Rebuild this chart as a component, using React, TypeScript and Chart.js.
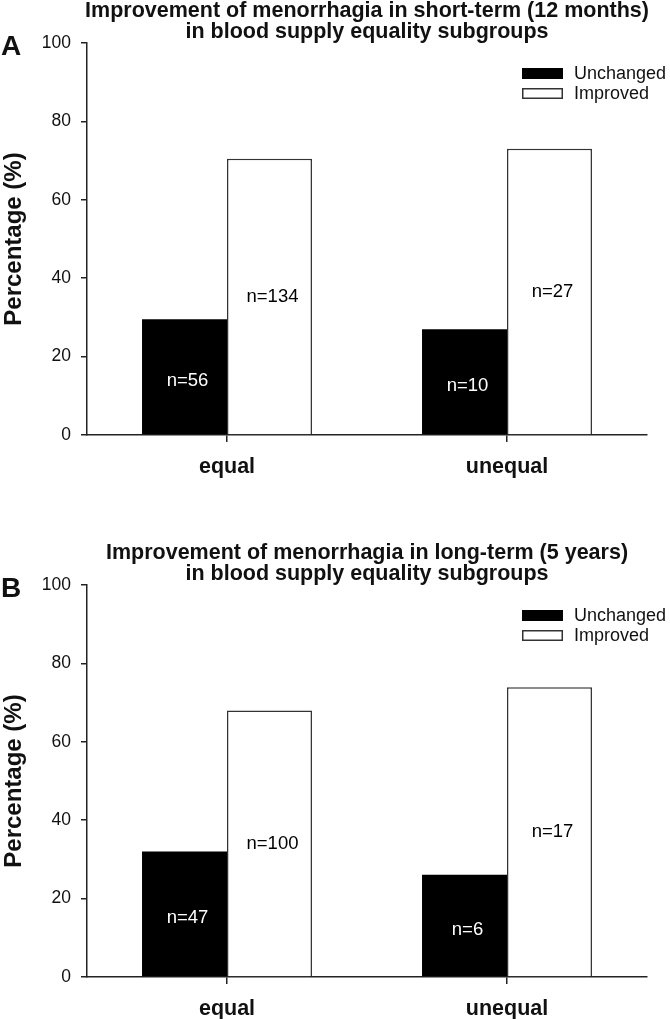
import React, { useEffect, useRef } from 'react';
import { Chart, registerables } from 'chart.js';

Chart.register(...registerables);

const FONT = '"Liberation Sans", Arial, Helvetica, sans-serif';

// ---- data ----
const categories = ['equal', 'unequal'];
const seriesNames = ['Unchanged', 'Improved'];
const yTickValues = [0, 20, 40, 60, 80, 100];
const yAxisTitle = 'Percentage (%)';

const titleA = ['Improvement of menorrhagia in short-term (12 months)', 'in blood supply equality subgroups'];
const unchangedA = [29.5, 27.0];
const improvedA = [70.5, 73.0];
const countUnchangedA = [56, 10];
const countImprovedA = [134, 27];

const titleB = ['Improvement of menorrhagia in long-term (5 years)', 'in blood supply equality subgroups'];
const unchangedB = [32.0, 26.1];
const improvedB = [68.0, 73.9];
const countUnchangedB = [47, 6];
const countImprovedB = [100, 17];

const decorPlugin = {
  id: 'decor',
  afterDatasetsDraw(chart: any, _args: any, opts: any) {
    const { ctx, chartArea } = chart;
    const yScale = chart.scales.y;
    ctx.save();
    // bar labels
    chart.data.datasets.forEach((ds: any, di: number) => {
      const meta = chart.getDatasetMeta(di);
      meta.data.forEach((el: any, i: number) => {
        const v = ds.data[i];
        const y = yScale.getPixelForValue(v / 2) + (ds.labelShift || 0);
        ctx.fillStyle = ds.labelColor;
        ctx.font = `18.5px ${FONT}`;
        ctx.textAlign = 'center';
        ctx.textBaseline = 'middle';
        ctx.fillText(`n=${ds.counts[i]}`, el.x + 3, y);
      });
    });
    // legend
    const lx = chartArea.right - 125;
    const ly0 = chartArea.top + 25;
    chart.data.datasets.forEach((ds: any, k: number) => {
      const y = ly0 + k * 20;
      ctx.fillStyle = ds.backgroundColor;
      ctx.fillRect(lx, y, 41, 11);
      if (ds.borderWidth > 0) {
        ctx.strokeStyle = ds.borderColor;
        ctx.lineWidth = 1.5;
        ctx.strokeRect(lx + 0.75, y + 0.75, 41 - 1.5, 11 - 1.5);
      }
      ctx.fillStyle = '#111';
      ctx.font = `18px ${FONT}`;
      ctx.textAlign = 'left';
      ctx.textBaseline = 'middle';
      ctx.fillText(ds.label, lx + 52, y + 6.5);
    });
    // title
    const cx = (chartArea.left + chartArea.right) / 2;
    ctx.fillStyle = '#111';
    ctx.font = `bold 21.5px ${FONT}`;
    ctx.textAlign = 'center';
    ctx.textBaseline = 'alphabetic';
    opts.title.forEach((line: string, k: number) => ctx.fillText(line, cx, 17 + k * 21));
    // panel letter
    ctx.font = `bold 28px ${FONT}`;
    ctx.textAlign = 'left';
    ctx.fillText(opts.letter, 1, 55);
    // y title
    ctx.translate(14, (chartArea.top + chartArea.bottom) / 2);
    ctx.rotate(-Math.PI / 2);
    ctx.font = `bold 24px ${FONT}`;
    ctx.textAlign = 'center';
    ctx.textBaseline = 'middle';
    ctx.fillText(yAxisTitle, 0, 0);
    ctx.restore();
  },
};

type PanelProps = {
  letter: string;
  title: string[];
  unchanged: number[];
  improved: number[];
  nUnchanged: number[];
  nImproved: number[];
  height: number;
};

function Panel({ letter, title, unchanged, improved, nUnchanged, nImproved, height }: PanelProps) {
  const ref = useRef<HTMLCanvasElement>(null);
  useEffect(() => {
    if (!ref.current) return;
    const axisColor = '#222';
    const chart = new Chart(ref.current, {
      type: 'bar',
      data: {
        labels: categories,
        datasets: [
          {
            label: seriesNames[0],
            data: unchanged,
            backgroundColor: '#000',
            borderColor: '#000',
            borderWidth: 0,
            counts: nUnchanged,
            labelColor: '#fff',
            labelShift: 4,
          } as any,
          {
            label: seriesNames[1],
            data: improved,
            backgroundColor: '#fff',
            borderColor: '#333',
            borderWidth: 1.5,
            counts: nImproved,
            labelColor: '#000',
            labelShift: 0,
          } as any,
        ],
      },
      options: {
        responsive: false,
        animation: false,
        devicePixelRatio: 1,
        datasets: { bar: { categoryPercentage: 0.607, barPercentage: 1 } },
        layout: { padding: { top: 43, right: 23, left: 0, bottom: 0 } },
        plugins: {
          legend: { display: false },
          title: { display: false },
          tooltip: { enabled: false },
          decor: { title, letter },
        } as any,
        scales: {
          x: {
            afterFit: (s: any) => { s.height = height - 435; },
            grid: { offset: false, drawOnChartArea: false, tickLength: 7, color: axisColor, lineWidth: 1.5 },
            border: { display: true, color: axisColor, width: 1.5 },
            ticks: { padding: 12, color: '#111', font: { family: FONT, size: 21.5, weight: 'bold' } },
          },
          y: {
            min: 0,
            max: 100,
            afterFit: (s: any) => { s.width = 87; },
            afterBuildTicks: (s: any) => { s.ticks = yTickValues.map((v) => ({ value: v })); },
            grid: { drawOnChartArea: false, tickLength: 6, color: axisColor, lineWidth: 1.5 },
            border: { display: true, color: axisColor, width: 1.5 },
            ticks: { padding: 10, color: '#111', font: { family: FONT, size: 17.5 } },
          },
        },
      },
      plugins: [decorPlugin],
    });
    return () => chart.destroy();
  }, []);
  return <canvas ref={ref} width={670} height={height} style={{ display: 'block', width: 670, height }} />;
}

export default function App() {
  useEffect(() => {
    document.body.style.margin = '0';
  }, []);
  return (
    <div style={{ width: 670, height: 1019, background: '#fff' }}>
      <Panel letter="A" title={titleA} unchanged={unchangedA} improved={improvedA}
        nUnchanged={countUnchangedA} nImproved={countImprovedA} height={542} />
      <Panel letter="B" title={titleB} unchanged={unchangedB} improved={improvedB}
        nUnchanged={countUnchangedB} nImproved={countImprovedB} height={477} />
    </div>
  );
}
